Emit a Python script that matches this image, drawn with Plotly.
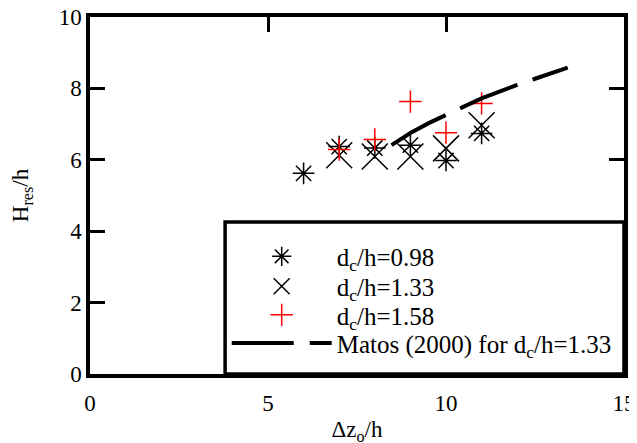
import plotly.graph_objects as go

x_098 = [6, 7, 8, 9, 10, 11]
y_098 = [5.62, 6.37, 6.33, 6.41, 5.98, 6.74]

x_133 = [7, 8, 9, 10, 11]
y_133 = [6.13, 6.09, 6.09, 6.32, 6.97]

x_158 = [7, 8, 9, 10, 11]
y_158 = [6.29, 6.57, 7.63, 6.76, 7.58]

x_matos = [8.47, 9.0, 9.5, 10.0, 10.5, 11.0, 11.5, 12.0, 12.5, 13.0, 13.42]
y_matos = [6.41, 6.75, 7.02, 7.27, 7.49, 7.72, 7.92, 8.10, 8.27, 8.43, 8.58]

FONT = "Liberation Serif"

fig = go.Figure()
fig.add_trace(go.Scatter(
    x=x_098, y=y_098, mode="markers", name="d<sub>c</sub>/h=0.98", legend="legend",
    marker=dict(symbol="asterisk-open", size=18, color="black",
                line=dict(color="black", width=1.5))))
fig.add_trace(go.Scatter(
    x=x_133, y=y_133, mode="markers", name="d<sub>c</sub>/h=1.33", legend="legend2",
    marker=dict(symbol="x-thin-open", size=26, color="black",
                line=dict(color="black", width=1.5))))
fig.add_trace(go.Scatter(
    x=x_158, y=y_158, mode="markers", name="d<sub>c</sub>/h=1.58", legend="legend3",
    marker=dict(symbol="cross-thin-open", size=16, color="red",
                line=dict(color="red", width=1.5))))
fig.add_trace(go.Scatter(
    x=x_matos, y=y_matos, mode="lines", name="Matos (2000) for d<sub>c</sub>/h=1.33",
    legend="legend4",
    line=dict(color="black", width=4, dash="62px,16px")))

axis_common = dict(
    showline=True, linecolor="black", linewidth=3.5, mirror="ticks",
    ticks="inside", ticklen=15, tickwidth=3, tickcolor="black",
    showgrid=False, zeroline=False, automargin=False,
    ticklabeloverflow="allow",
    tickfont=dict(family=FONT, size=23, color="black"),
)

fig.update_xaxes(range=[0, 15], tickvals=[0, 5, 10, 15], ticklabelstandoff=6,
                 title=dict(text="Δz<sub>o</sub>/h", font=dict(family=FONT, size=23, color="black"), standoff=7),
                 **axis_common)
fig.update_yaxes(range=[0, 10], tickvals=[0, 2, 4, 6, 8, 10],
                 title=dict(text="H<sub>res</sub>/h", font=dict(family=FONT, size=23, color="black"), standoff=28),
                 **axis_common)

# legend box
fig.add_shape(type="rect", xref="paper", yref="paper", x0=0.253, x1=1.0, y0=0.0, y1=0.426,
              fillcolor="white", line=dict(color="black", width=3.5), layer="above")

leg_common = dict(x=0.256, xanchor="left", yanchor="middle",
                  bgcolor="rgba(0,0,0,0)", borderwidth=0,
                  font=dict(family=FONT, size=25, color="black"),
                  itemwidth=100)

fig.update_layout(
    width=637, height=443,
    # page body adds an 8px offset; margins compensate
    margin=dict(l=82, r=21, t=9, b=77),
    plot_bgcolor="white", paper_bgcolor="white",
    showlegend=True,
    legend=dict(y=0.329, **leg_common),
    legend2=dict(y=0.245, **leg_common),
    legend3=dict(y=0.165, **leg_common),
    legend4=dict(y=0.086, **leg_common),
)

fig.write_html("out.html")
